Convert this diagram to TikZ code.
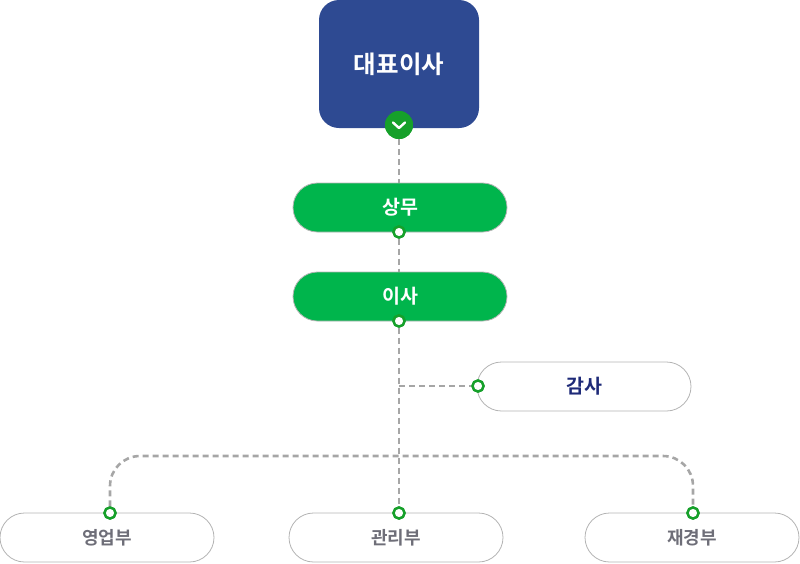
\documentclass[tikz,border=0pt]{standalone}
\usepackage{fontspec}
\setmainfont{Noto Sans CJK KR}[BoldFont={Noto Sans CJK KR Bold}]
\definecolor{ceoblue}{HTML}{2E4A92}
\definecolor{boxgreen}{HTML}{00B54C}
\definecolor{dotgreen}{HTML}{16A02A}
\definecolor{linegray}{HTML}{A6A6A6}
\definecolor{bordergray}{HTML}{B4B4B4}
\definecolor{navytext}{HTML}{1E2A78}
\definecolor{graytext}{HTML}{6E6E78}
\tikzset{
  x=1pt, y=-1pt,
  ceobox/.style={rectangle, rounded corners=20pt, fill=ceoblue, minimum width=160pt, minimum height=128pt, inner sep=0pt, text=white, font=\fontsize{24.5}{28}\selectfont\bfseries},
  greenbox/.style={rectangle, rounded corners=24.5pt, fill=boxgreen, draw=bordergray, line width=0.8pt, minimum width=214pt, minimum height=49pt, inner sep=0pt, text=white, font=\fontsize{19.5}{23}\selectfont\bfseries},
  whitebox/.style={rectangle, rounded corners=24.5pt, fill=white, draw=bordergray, line width=0.8pt, minimum width=214pt, minimum height=49pt, inner sep=0pt},
  auditlbl/.style={text=navytext, font=\fontsize{19.5}{23}\selectfont\bfseries},
  deptlbl/.style={text=graytext, font=\fontsize{18}{22}\selectfont\bfseries},
  conn/.style={draw=linegray, line width=2.6pt, dash pattern=on 6pt off 4pt},
  portdot/.style={circle, draw=dotgreen, fill=white, line width=2.4pt, minimum size=11pt, inner sep=0pt},
  chev/.style={circle, fill=dotgreen, minimum size=28pt, inner sep=0pt},
}
\begin{document}
\begin{tikzpicture}
\useasboundingbox (0,0) rectangle (800,563);
% boxes
\node[ceobox] (ceo) at (399,64) {대표이사};
\node[greenbox] (sangmu) at (400,207.5) {상무};
\node[greenbox] (isa) at (400,296.5) {이사};
\node[whitebox, auditlbl] (gamsa) at (584,386.5) {감사};
\node[whitebox, deptlbl] (sales) at (107,537.5) {영업부};
\node[whitebox, deptlbl] (admin) at (396,537.5) {관리부};
\node[whitebox, deptlbl] (fin) at (692,537.5) {재경부};
% ports
\node[chev] (ceoport) at (399,125) {};
\node[portdot] (p1) at (399,232) {};
\node[portdot] (p2) at (399,321) {};
\node[portdot] (pg) at (478,386) {};
\node[portdot] (ps) at (110,513) {};
\node[portdot] (pa) at (399,513) {};
\node[portdot] (pf) at (693,513) {};
\coordinate (tee) at (399,386);
\coordinate (bus) at (399,456);
% connectors
\path[conn] (ceoport.south) -- (sangmu.north -| ceoport);
\path[conn] (p1.south) -- (isa.north -| p1);
\path[conn] (p2.south) -- (pa.north);
\path[conn] (tee) -- (pg.west);
\path[conn, rounded corners=30pt] (ps.north) -- (ps.north |- bus) -- (pf.north |- bus) -- (pf.north);
% redraw ports on top
\node[chev] at (399,125) {};
\draw[white, line width=2.4pt, line cap=round, line join=round] (393,122.5) -- (399,128) -- (405,122.5);
\node[portdot] at (399,232) {};
\node[portdot] at (399,321) {};
\node[portdot] at (478,386) {};
\node[portdot] at (110,513) {};
\node[portdot] at (399,513) {};
\node[portdot] at (693,513) {};
\end{tikzpicture}
\end{document}
